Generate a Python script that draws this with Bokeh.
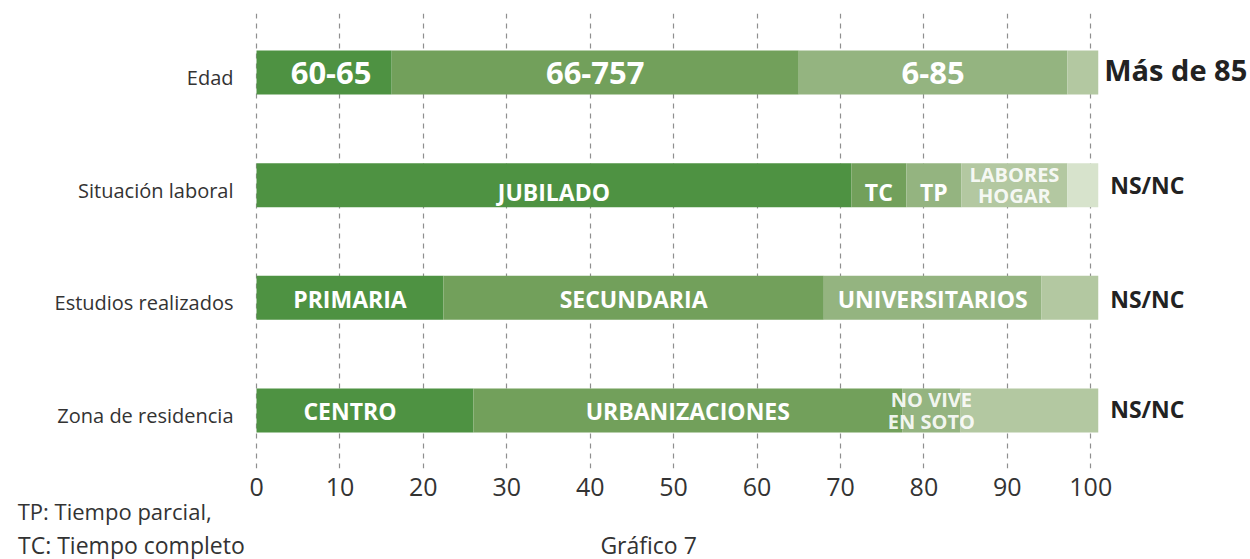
from bokeh.plotting import figure
from bokeh.models import ColumnDataSource, FixedTicker, Range1d, LinearAxis
from bokeh.core.properties import value
from bokeh.embed import file_html
from bokeh.resources import INLINE

# ---------------- data ----------------
categories = ["Edad", "Situación laboral", "Estudios realizados", "Zona de residencia"]

edad_labels = ["60-65", "66-757", "6-85", "Más de 85"]
edad_values = [16.2, 48.8, 32.2, 3.7]

laboral_labels = ["JUBILADO", "TC", "TP", "LABORES\nHOGAR", "NS/NC"]
laboral_values = [71.3, 6.6, 6.6, 12.7, 3.7]

estudios_labels = ["PRIMARIA", "SECUNDARIA", "UNIVERSITARIOS", "NS/NC"]
estudios_values = [22.4, 45.6, 26.1, 6.8]

zona_labels = ["CENTRO", "URBANIZACIONES", "NO VIVE\nEN SOTO", "NS/NC"]
zona_values = [26.0, 51.4, 7.0, 16.5]

x_ticks = [0, 10, 20, 30, 40, 50, 60, 70, 80, 90, 100]
footnote_tp = "TP: Tiempo parcial,"
footnote_tc = "TC: Tiempo completo"
caption = "Gráfico 7"

# ---------------- style ----------------
shades = ["#4e9242", "#72a05b", "#94b480", "#b3c8a1", "#d7e3cc"]
FONT = "Open Sans"
TXT = "#333333"
rows = [(edad_labels, edad_values), (laboral_labels, laboral_values),
        (estudios_labels, estudios_values), (zona_labels, zona_values)]
y_pos = [4, 3, 2, 1]

row_style = [("31px", 0), ("23px", 7), ("23px", 1), ("23px", 1)]
x_off_special = {"60-65": 7, "CENTRO": -15}
out_style = [("29px", 6, -3), ("23px", 12, 0), ("23px", 12, 1), ("23px", 12, -1)]

bars = dict(y=[], left=[], right=[], color=[])
inl = dict(x=[], y=[], text=[], size=[], xo=[], yo=[])
multi = dict(x=[], y=[], text=[])
outl = dict(x=[], y=[], text=[], size=[], xo=[], yo=[])

for r, (labels, vals) in enumerate(rows):
    left = 0.0
    for i, (lab, v) in enumerate(zip(labels, vals)):
        right = left + v
        bars["y"].append(y_pos[r])
        bars["left"].append(left)
        bars["right"].append(right)
        bars["color"].append(shades[i])
        if i < len(labels) - 1:
            if "\n" in lab:
                multi["x"].append((left + right) / 2)
                multi["y"].append(y_pos[r])
                multi["text"].append(lab)
            else:
                inl["x"].append((left + right) / 2)
                inl["y"].append(y_pos[r])
                inl["text"].append(lab)
                inl["size"].append(row_style[r][0])
                inl["yo"].append(row_style[r][1])
                inl["xo"].append(x_off_special.get(lab, 0))
        else:
            outl["x"].append(right)
            outl["y"].append(y_pos[r])
            outl["text"].append(lab)
            outl["size"].append(out_style[r][0])
            outl["xo"].append(out_style[r][1])
            outl["yo"].append(out_style[r][2])
        left = right

p = figure(x_range=Range1d(-30.69, 119.15), y_range=Range1d(0.485, 4.524),
           frame_width=1250, frame_height=455,
           min_border_left=0, min_border_right=0, min_border_top=13, min_border_bottom=0,
           y_axis_location=None,
           output_backend="svg", toolbar_location=None)

p.hbar(y="y", left="left", right="right", height=0.39, color="color",
       line_color=None, source=ColumnDataSource(bars))

p.text(x="x", y="y", text="text", source=ColumnDataSource(inl),
       text_font=value(FONT), text_font_style="bold", text_font_size="size",
       text_color="white", text_align="center", text_baseline="middle",
       x_offset="xo", y_offset="yo")

p.text(x="x", y="y", text="text", source=ColumnDataSource(multi),
       text_font=value(FONT), text_font_style="bold", text_font_size="20px",
       text_color="white", text_alpha=0.9, text_align="center", text_baseline="middle",
       text_line_height=0.79)

p.text(x="x", y="y", text="text", source=ColumnDataSource(outl),
       text_font=value(FONT), text_font_style="bold", text_font_size="size",
       text_color="#222222", text_align="left", text_baseline="middle",
       x_offset="xo", y_offset="yo")

# category labels (left)
p.text(x=[-2.76] * len(categories), y=y_pos, text=categories,
       text_font=value(FONT), text_font_size="20px", text_color=TXT,
       text_align="right", text_baseline="middle", y_offset=5)

# x axis
p.xaxis.ticker = FixedTicker(ticks=x_ticks)
p.xgrid.ticker = FixedTicker(ticks=x_ticks)
p.ygrid.grid_line_color = None
p.xgrid.grid_line_color = "#8f8f8f"
p.xgrid.grid_line_dash = "5 5"
p.xgrid.grid_line_width = 1.2
p.outline_line_color = None


def style_axis(ax, size, standoff):
    ax.axis_line_color = None
    ax.major_tick_line_color = None
    ax.minor_tick_line_color = None
    ax.major_tick_in = 0
    ax.major_tick_out = 0
    ax.major_label_text_font = FONT
    ax.major_label_text_color = TXT
    ax.major_label_text_font_size = size
    ax.major_label_standoff = standoff


style_axis(p.xaxis[0], "25px", 9)

# footnote lines (placed with extra axes below the main one)
tp_pos, tc_pos, cap_pos = -17, -15, 47
ax_tp = LinearAxis(ticker=FixedTicker(ticks=[tp_pos]),
                   major_label_overrides={tp_pos: footnote_tp})
style_axis(ax_tp, "22px", -3)
p.add_layout(ax_tp, "below")

ax_tc = LinearAxis(ticker=FixedTicker(ticks=[tc_pos, cap_pos]),
                   major_label_overrides={tc_pos: footnote_tc, cap_pos: caption})
style_axis(ax_tc, "23px", 0)
p.add_layout(ax_tc, "below")

open("out.html", "w").write(file_html(p, INLINE))
